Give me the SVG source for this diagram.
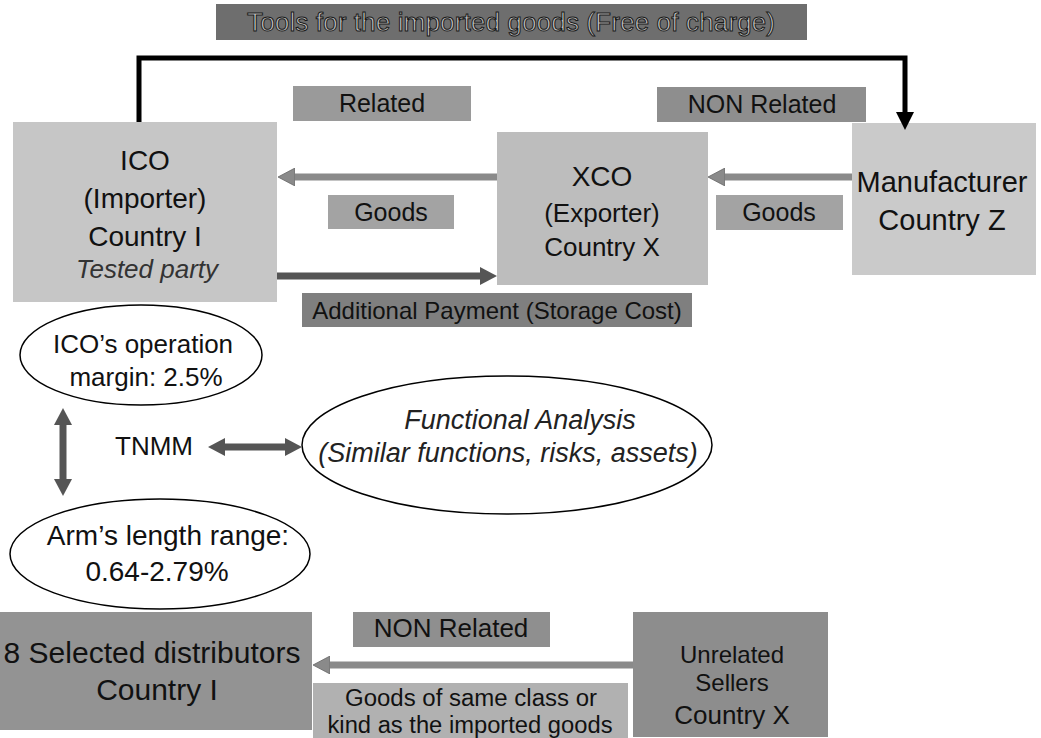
<svg xmlns="http://www.w3.org/2000/svg" width="1041" height="738" viewBox="0 0 1041 738">
<style>
text{font-family:"Liberation Sans",Arial,sans-serif;fill:#111;text-anchor:middle}
.it{font-style:italic}
.lbl{font-size:25px}
.node{font-size:28px}
.gline{stroke:#8a8a8a;stroke-width:7;fill:none}
.dline{stroke:#555;stroke-width:7;fill:none}
.bline{stroke:#000;stroke-width:5;fill:none}
.ell{fill:#fff;stroke:#000;stroke-width:1.5}
</style>
<defs>
<marker id="hg" markerUnits="userSpaceOnUse" markerWidth="17" markerHeight="18" viewBox="0 0 17 18" refX="0" refY="9" orient="auto-start-reverse"><path d="M0,0 L17,9 L0,18 z" fill="#8a8a8a" stroke="#666" stroke-width="0.8"/></marker>
<marker id="hd" markerUnits="userSpaceOnUse" markerWidth="17" markerHeight="18" viewBox="0 0 17 18" refX="0" refY="9" orient="auto-start-reverse"><path d="M0,0 L17,9 L0,18 z" fill="#555"/></marker>
<marker id="hb" markerUnits="userSpaceOnUse" markerWidth="18" markerHeight="18" viewBox="0 0 18 18" refX="0" refY="9" orient="auto"><path d="M0,0 L18,9 L0,18 z" fill="#000"/></marker>
</defs>

<g id="tools-label">
<rect x="216" y="4" width="591" height="36" fill="#6e6e6e"/>
<text x="511" y="31" font-size="26" textLength="528" lengthAdjust="spacingAndGlyphs" style="fill:#c4c4c4;stroke:#1a1a1a;stroke-width:1">Tools for the imported goods (Free of charge)</text>
</g>

<g id="related-label">
<rect x="293" y="86" width="178" height="35" fill="#9a9a9a"/>
<text x="382" y="112" class="lbl">Related</text>
</g>

<g id="nonrelated-top-label">
<rect x="657" y="87" width="209" height="35" fill="#8e8e8e"/>
<text x="762" y="113" class="lbl">NON Related</text>
</g>

<g id="ico">
<rect x="13" y="122" width="264" height="180" fill="#c6c6c6"/>
<text x="145" y="170" class="node">ICO</text>
<text x="145" y="208" class="node">(Importer)</text>
<text x="145" y="246" class="node">Country I</text>
<text x="147" y="278" font-size="26" class="it" style="fill:#333">Tested party</text>
</g>

<g id="xco">
<rect x="497" y="132" width="211" height="153" fill="#bdbdbd"/>
<text x="602" y="186" font-size="28">XCO</text>
<text x="602" y="222" font-size="26">(Exporter)</text>
<text x="602" y="256" font-size="26">Country X</text>
</g>

<g id="manufacturer">
<rect x="852" y="123" width="184" height="152" fill="#cacaca"/>
<text x="942" y="192" font-size="29">Manufacturer</text>
<text x="942" y="230" font-size="29">Country Z</text>
</g>

<g id="goods-label-1">
<rect x="328" y="195" width="126" height="34" fill="#a3a3a3"/>
<text x="391" y="221" class="lbl">Goods</text>
</g>

<g id="goods-label-2">
<rect x="716" y="195" width="127" height="35" fill="#a3a3a3"/>
<text x="779" y="221" class="lbl">Goods</text>
</g>

<g id="payment-label">
<rect x="302" y="293" width="390" height="34" fill="#7f7f7f"/>
<text x="497" y="319" font-size="24">Additional Payment (Storage Cost)</text>
</g>

<g id="ico-margin">
<ellipse cx="141" cy="355" rx="121" ry="50" class="ell"/>
<text x="143" y="353" font-size="26">ICO’s operation</text>
<text x="146" y="386" font-size="26">margin: 2.5%</text>
</g>

<g id="tnmm">
<text x="154" y="455" font-size="26">TNMM</text>
</g>

<g id="functional-analysis">
<ellipse cx="507" cy="445" rx="205" ry="69" class="ell"/>
<text x="520" y="429" font-size="27" class="it" style="fill:#222">Functional Analysis</text>
<text x="508" y="462" font-size="27" class="it" style="fill:#222">(Similar functions, risks, assets)</text>
</g>

<g id="arms-length">
<ellipse cx="160" cy="554" rx="150" ry="55" class="ell"/>
<text x="168" y="545" font-size="28">Arm’s length range:</text>
<text x="157" y="581" font-size="28">0.64-2.79%</text>
</g>

<g id="selected-distributors">
<rect x="0" y="612" width="312" height="118" fill="#939393"/>
<text x="152" y="663" font-size="30">8 Selected distributors</text>
<text x="157" y="700" font-size="30">Country I</text>
</g>

<g id="nonrelated-bottom-label">
<rect x="353" y="612" width="197" height="35" fill="#8f8f8f"/>
<text x="451" y="637" font-size="26">NON Related</text>
</g>

<g id="goods-same-class-label">
<rect x="313" y="683" width="315" height="55" fill="#b1b1b1"/>
<text x="471" y="706" font-size="23" textLength="252" lengthAdjust="spacingAndGlyphs">Goods of same class or</text>
<text x="470" y="733" font-size="23" textLength="285" lengthAdjust="spacingAndGlyphs">kind as the imported goods</text>
</g>

<g id="unrelated-sellers">
<rect x="633" y="612" width="195" height="125" fill="#8d8d8d"/>
<text x="732" y="663" font-size="24">Unrelated</text>
<text x="732" y="691" font-size="24">Sellers</text>
<text x="732" y="724" font-size="26">Country X</text>
</g>

<g id="connectors">
<path d="M139,122 V58 H905 V112" class="bline" marker-end="url(#hb)"/>
<path d="M497,177 H295" class="gline" marker-end="url(#hg)"/>
<path d="M852,177 H725" class="gline" marker-end="url(#hg)"/>
<path d="M277,276 H480" class="dline" marker-end="url(#hd)"/>
<path d="M63,425 V479" class="dline" marker-start="url(#hd)" marker-end="url(#hd)"/>
<path d="M225,447 H285" class="dline" marker-start="url(#hd)" marker-end="url(#hd)"/>
<path d="M633,665 H330" class="gline" marker-end="url(#hg)"/>
</g>
</svg>
